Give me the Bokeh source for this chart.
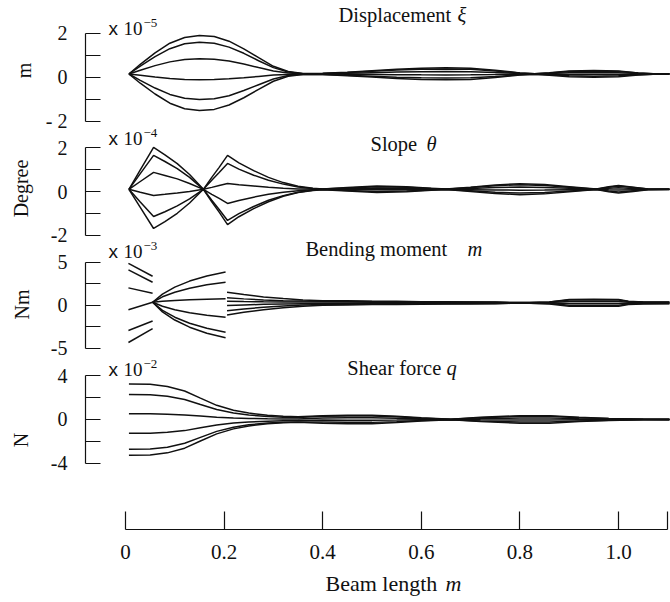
from bokeh.plotting import figure
from bokeh.models import Range1d, FixedTicker, Label, PrintfTickFormatter
from bokeh.layouts import column
from bokeh.embed import file_html
from bokeh.resources import INLINE

# ---------------- data ----------------
# Displacement xi, units of 1e-5 m
disp_x = [0.007, 0.03, 0.06, 0.09, 0.12, 0.15, 0.18, 0.21, 0.24, 0.27, 0.30, 0.33, 0.36,
          0.40, 0.45, 0.50, 0.55, 0.60, 0.65, 0.70, 0.75, 0.80, 0.83, 0.86, 0.90, 0.95,
          1.00, 1.04, 1.07, 1.104]
disp_1 = [0.16, 0.60, 1.12, 1.56, 1.82, 1.91, 1.86, 1.65, 1.30, 0.90, 0.51, 0.27, 0.18,
          0.19, 0.24, 0.31, 0.38, 0.42, 0.44, 0.42, 0.33, 0.21, 0.17, 0.22, 0.29, 0.32,
          0.29, 0.21, 0.17, 0.165]
disp_2 = [0.16, 0.52, 0.95, 1.31, 1.53, 1.60, 1.56, 1.38, 1.10, 0.76, 0.45, 0.25, 0.17,
          0.185, 0.226, 0.283, 0.34, 0.373, 0.39, 0.373, 0.299, 0.201, 0.168, 0.209, 0.267,
          0.291, 0.267, 0.201, 0.168, 0.164]
disp_3 = [0.16, 0.33, 0.54, 0.71, 0.82, 0.85, 0.83, 0.75, 0.61, 0.45, 0.30, 0.20, 0.17,
          0.172, 0.192, 0.22, 0.248, 0.264, 0.272, 0.264, 0.228, 0.18, 0.164, 0.184, 0.212,
          0.224, 0.212, 0.18, 0.164, 0.162]
disp_4 = [0.16, 0.10, 0.02, -0.05, -0.09, -0.10, -0.09, -0.06, -0.01, 0.05, 0.11, 0.14, 0.16,
          0.155, 0.148, 0.138, 0.127, 0.121, 0.118, 0.121, 0.134, 0.152, 0.158, 0.151, 0.14,
          0.136, 0.14, 0.152, 0.158, 0.159]
disp_5 = [0.16, -0.13, -0.48, -0.77, -0.94, -1.00, -0.97, -0.83, -0.59, -0.33, -0.07, 0.09, 0.15,
          0.14, 0.107, 0.061, 0.015, -0.012, -0.025, -0.012, 0.048, 0.127, 0.153, 0.12, 0.074,
          0.054, 0.074, 0.127, 0.153, 0.157]
disp_6 = [0.16, -0.26, -0.75, -1.17, -1.42, -1.50, -1.45, -1.25, -0.92, -0.54, -0.17, 0.06, 0.14,
          0.131, 0.084, 0.017, -0.049, -0.087, -0.106, -0.087, -0.002, 0.112, 0.15, 0.103, 0.036,
          0.008, 0.036, 0.112, 0.15, 0.155]

# Slope theta, units of 1e-4 degree
slope_x = [0.007, 0.03, 0.057, 0.08, 0.105, 0.13, 0.158, 0.175, 0.19, 0.207, 0.23, 0.26, 0.29,
           0.32, 0.35, 0.38, 0.40, 0.45, 0.51, 0.57, 0.62, 0.65, 0.70, 0.75, 0.80, 0.85, 0.90,
           0.955, 0.98, 1.00, 1.03, 1.06, 1.104]
slope_1 = [0.1, 0.99, 2.03, 1.68, 1.28, 0.78, 0.1, 0.65, 1.11, 1.66, 1.32, 0.96, 0.65, 0.41, 0.24,
           0.15, 0.12, 0.18, 0.25, 0.22, 0.15, 0.11, 0.2, 0.3, 0.36, 0.32, 0.22, 0.11, 0.22, 0.28,
           0.2, 0.12, 0.105]
slope_2 = [0.1, 0.82, 1.66, 1.38, 1.05, 0.65, 0.1, 0.52, 0.87, 1.29, 1.03, 0.75, 0.52, 0.34, 0.21,
           0.14, 0.11, 0.166, 0.223, 0.198, 0.141, 0.108, 0.182, 0.264, 0.313, 0.28, 0.198, 0.108,
           0.198, 0.248, 0.182, 0.116, 0.104]
slope_3 = [0.1, 0.46, 0.88, 0.74, 0.58, 0.37, 0.1, 0.19, 0.28, 0.37, 0.31, 0.25, 0.19, 0.15, 0.12,
           0.11, 0.10, 0.132, 0.16, 0.148, 0.12, 0.104, 0.14, 0.18, 0.204, 0.188, 0.148, 0.104,
           0.148, 0.172, 0.14, 0.108, 0.102]
slope_4 = [0.1, -0.03, -0.18, -0.13, -0.07, 0.0, 0.1, -0.13, -0.32, -0.55, -0.41, -0.26, -0.13,
           -0.03, 0.04, 0.08, 0.09, 0.088, 0.078, 0.082, 0.092, 0.098, 0.085, 0.07, 0.061, 0.067,
           0.082, 0.098, 0.082, 0.073, 0.085, 0.097, 0.099]
slope_5 = [0.1, -0.48, -1.15, -0.93, -0.66, -0.34, 0.1, -0.40, -0.83, -1.33, -1.02, -0.69, -0.40,
           -0.19, -0.03, 0.06, 0.09, 0.047, 0.001, 0.021, 0.067, 0.093, 0.034, -0.032, -0.072,
           -0.045, 0.021, 0.093, 0.021, -0.019, 0.034, 0.087, 0.097]
slope_6 = [0.1, -0.73, -1.70, -1.38, -1.0, -0.53, 0.1, -0.47, -0.95, -1.52, -1.16, -0.79, -0.47,
           -0.22, -0.05, 0.05, 0.08, 0.024, -0.043, -0.014, 0.052, 0.09, 0.005, -0.09, -0.147,
           -0.109, -0.014, 0.09, -0.014, -0.071, 0.005, 0.081, 0.095]

# Bending moment m, units of 1e-3 Nm (three separate pieces)
moment_a_x = [0.006, 0.055]
moment_a = [[4.9, 3.4], [4.15, 2.7], [2.05, 1.43], [-0.5, 0.38], [-2.9, -1.8], [-4.3, -2.7]]
moment_b_x = [0.055, 0.075, 0.10, 0.13, 0.165, 0.203]
moment_b = [[0.38, 1.33, 2.14, 2.84, 3.44, 3.9],
            [0.38, 1.01, 1.54, 2.0, 2.4, 2.7],
            [0.38, 0.49, 0.58, 0.66, 0.73, 0.78],
            [0.38, -0.09, -0.49, -0.84, -1.13, -1.36],
            [0.38, -0.56, -1.36, -2.06, -2.65, -3.1],
            [0.38, -0.74, -1.69, -2.52, -3.22, -3.76]]
moment_c_x = [0.206, 0.24, 0.28, 0.32, 0.36, 0.40, 0.45, 0.50, 0.55, 0.60, 0.65, 0.70, 0.75,
              0.78, 0.82, 0.86, 0.90, 0.95, 1.00, 1.02, 1.05, 1.104]
moment_c = [[1.55, 1.275, 1.0, 0.8, 0.65, 0.55, 0.55, 0.5, 0.48, 0.45, 0.44, 0.42, 0.4, 0.35,
             0.35, 0.42, 0.7, 0.72, 0.7, 0.5, 0.42, 0.4],
            [0.9, 0.77, 0.64, 0.56, 0.51, 0.49, 0.505, 0.464, 0.448, 0.423, 0.415, 0.398, 0.382,
             0.341, 0.341, 0.398, 0.628, 0.644, 0.628, 0.464, 0.398, 0.382],
            [0.5, 0.46, 0.43, 0.41, 0.40, 0.40, 0.4, 0.38, 0.372, 0.36, 0.356, 0.348, 0.34, 0.32,
             0.32, 0.348, 0.46, 0.468, 0.46, 0.38, 0.348, 0.34],
            [0.0, 0.066, 0.132, 0.18, 0.216, 0.24, 0.262, 0.27, 0.273, 0.278, 0.279, 0.282, 0.285,
             0.292, 0.292, 0.282, 0.24, 0.237, 0.24, 0.27, 0.282, 0.285],
            [-0.6, -0.402, -0.204, -0.06, 0.048, 0.11, 0.135, 0.168, 0.181, 0.201, 0.208, 0.221,
             0.234, 0.267, 0.267, 0.221, 0.036, 0.023, 0.036, 0.168, 0.221, 0.234],
            [-1.1, -0.792, -0.484, -0.26, -0.092, 0.02, 0.063, 0.11, 0.129, 0.158, 0.167, 0.186,
             0.205, 0.252, 0.252, 0.186, -0.08, -0.099, -0.08, 0.11, 0.186, 0.205]]

# Shear force q, units of 1e-2 N
shear_x = [0.007, 0.05, 0.085, 0.12, 0.152, 0.185, 0.219, 0.25, 0.288, 0.32, 0.35, 0.40, 0.45,
           0.50, 0.55, 0.60, 0.66, 0.72, 0.80, 0.86, 0.92, 0.98, 1.05, 1.104]
shear_1 = [3.26, 3.23, 3.03, 2.61, 1.96, 1.30, 0.85, 0.59, 0.39, 0.29, 0.26, 0.35, 0.4, 0.4, 0.3,
           0.15, 0.02, 0.2, 0.35, 0.35, 0.2, 0.1, 0.03, 0.02]
shear_2 = [2.3, 2.28, 2.14, 1.84, 1.38, 0.92, 0.60, 0.41, 0.28, 0.21, 0.18, 0.287, 0.328, 0.328,
           0.246, 0.123, 0.016, 0.164, 0.287, 0.287, 0.164, 0.082, 0.025, 0.016]
shear_3 = [0.53, 0.52, 0.49, 0.42, 0.32, 0.21, 0.14, 0.10, 0.06, 0.05, 0.04, 0.14, 0.16, 0.16,
           0.12, 0.06, 0.008, 0.08, 0.14, 0.14, 0.08, 0.04, 0.012, 0.008]
shear_4 = [-1.27, -1.26, -1.18, -1.02, -0.76, -0.51, -0.33, -0.23, -0.15, -0.11, -0.10, -0.053,
           -0.06, -0.06, -0.045, -0.023, -0.003, -0.03, -0.053, -0.053, -0.03, -0.015, -0.005, -0.003]
shear_5 = [-2.73, -2.70, -2.54, -2.18, -1.64, -1.09, -0.71, -0.49, -0.33, -0.25, -0.22, -0.231,
           -0.264, -0.264, -0.198, -0.099, -0.013, -0.132, -0.231, -0.231, -0.132, -0.066, -0.02, -0.013]
shear_6 = [-3.29, -3.26, -3.06, -2.63, -1.97, -1.32, -0.86, -0.59, -0.39, -0.30, -0.26, -0.333,
           -0.38, -0.38, -0.285, -0.143, -0.019, -0.19, -0.333, -0.333, -0.19, -0.095, -0.029, -0.019]

x_ticks = [0, 0.2, 0.4, 0.6, 0.8, 1.0]
x_end_tick = [1.1]

# ---------------- styling ----------------
SERIF = "Liberation Serif"
SANS = "Liberation Sans"
INK = "#111111"
LW = 1.5
OVERLAP = 22
TITLE = "20.5px"

xr = Range1d(-0.0811, 1.1034)


def make_fig(h, y0, y1, bottom=0, overlap=0, axis=True):
    p = figure(width=670, height=h, x_range=xr, y_range=Range1d(y0, y1),
               output_backend="svg", toolbar_location=None,
               min_border_left=85, min_border_right=1, min_border_top=0,
               min_border_bottom=bottom,
               x_axis_location=("below" if bottom else None),
               y_axis_location=("left" if axis else None))
    p.outline_line_color = None
    p.grid.visible = False
    p.background_fill_color = None
    p.border_fill_color = None
    if overlap:
        p.margin = (-overlap, 0, 0, 0)
    return p


def style_y(p, major, minor, overrides, label, label_standoff):
    ax = p.yaxis[0]
    ax.ticker = FixedTicker(ticks=major, minor_ticks=minor)
    ax.bounds = (major[0], major[-1])
    ax.major_label_overrides = overrides
    ax.axis_label = label
    ax.axis_label_text_font = SERIF
    ax.axis_label_text_font_size = "20px"
    ax.axis_label_text_font_style = "normal"
    ax.axis_label_text_color = INK
    ax.axis_label_standoff = label_standoff
    ax.major_label_text_font = SERIF
    ax.major_label_text_font_size = "20px"
    ax.major_label_text_color = INK
    ax.major_label_standoff = 18
    ax.major_tick_in = 15
    ax.major_tick_out = 0
    ax.minor_tick_in = 15
    ax.minor_tick_out = 0
    for attr in ("axis_line", "major_tick_line", "minor_tick_line"):
        setattr(ax, attr + "_color", INK)
        setattr(ax, attr + "_width", 1.2)


def txt(p, x, y, text, size=TITLE, font=SERIF, style="normal"):
    p.add_layout(Label(x=x, y=y, text=text, text_font=font, text_font_size=size,
                       text_font_style=style, text_align="left",
                       text_baseline="alphabetic", text_color=INK))


def scale_note(p, y_base, y_exp, exp):
    txt(p, -0.0345, y_base, "x", size="19px", font=SANS)
    txt(p, -0.0041, y_base, "10", size="19px")
    txt(p, 0.0365, y_exp, exp, size="13px")


# panel 1: displacement   (page rows 0..140)
p1 = make_fig(140, -2.864, 3.5)
for ys in (disp_1, disp_2, disp_3, disp_4, disp_5, disp_6):
    p1.line(disp_x, ys, line_color=INK, line_width=LW)
style_y(p1, [-2, 0, 2], [-1, 1], {2: "2", 0: "0", -2: "- 2"}, "m", 8)
txt(p1, 0.432, 2.832, "Displacement")
txt(p1, 0.6734, 2.832, "ξ", style="italic")
scale_note(p1, 2.214, 2.495, "−5")

# panel 2: slope   (page rows 118..258)
p2 = make_fig(140, -3.080, 3.356, overlap=OVERLAP)
for ys in (slope_1, slope_2, slope_3, slope_4, slope_5, slope_6):
    p2.line(slope_x, ys, line_color=INK, line_width=LW)
style_y(p2, [-2, 0, 2], [-1, 1], {2: "2", 0: "0", -2: "-2"}, "Degree", 16)
txt(p2, 0.497, 2.175, "Slope")
txt(p2, 0.6105, 2.175, "θ", style="italic")
scale_note(p2, 2.423, 2.708, "−4")

# panel 3: bending moment   (page rows 236..372)
p3 = make_fig(136, -7.791, 8.023, overlap=OVERLAP)
for ys in moment_a:
    p3.line(moment_a_x, ys, line_color=INK, line_width=LW)
for ys in moment_b:
    p3.line(moment_b_x, ys, line_color=INK, line_width=LW)
for ys in moment_c:
    p3.line(moment_c_x, ys, line_color=INK, line_width=LW)
style_y(p3, [-5, 0, 5], [-2.5, 2.5], {5: "5", 0: "0", -5: "-5"}, "Nm", 15)
txt(p3, 0.365, 6.547, "Bending moment")
txt(p3, 0.6937, 6.547, "m", style="italic")
scale_note(p3, 6.244, 6.965, "−3")

# panel 4: shear force + common x axis   (page rows 350..602, frame 350..529)
p4 = make_fig(252, -10.092, 6.330, bottom=73, overlap=OVERLAP)
for ys in (shear_1, shear_2, shear_3, shear_4, shear_5, shear_6):
    p4.line(shear_x, ys, line_color=INK, line_width=LW)
style_y(p4, [-4, 0, 4], [-2, 2], {4: "4", 0: "0", -4: "-4"}, "N", 16)
txt(p4, 0.450, 4.706, "Shear force")
txt(p4, 0.6511, 4.706, "q", style="italic")
scale_note(p4, 4.560, 5.128, "−2")

xa = p4.xaxis[0]
xa.ticker = FixedTicker(ticks=x_ticks, minor_ticks=x_end_tick)
xa.bounds = (0, 1.1)
xa.formatter = PrintfTickFormatter(format="%.1f")
xa.major_label_overrides = {0: "0"}
xa.major_label_text_font = SERIF
xa.major_label_text_font_size = "21px"
xa.major_label_text_color = INK
xa.major_label_standoff = 15
xa.major_tick_in = 18
xa.major_tick_out = 0
xa.minor_tick_in = 18
xa.minor_tick_out = 0
for attr in ("axis_line", "major_tick_line", "minor_tick_line"):
    setattr(xa, attr + "_color", INK)
    setattr(xa, attr + "_width", 1.2)

# x-axis title strip (page rows 560..602)
p5 = make_fig(42, 0, 1, overlap=42, axis=False)
txt(p5, 0.4057, 0.443, "Beam length", size="22px")
txt(p5, 0.649, 0.443, "m", size="22px", style="italic")

layout = column(p1, p2, p3, p4, p5, spacing=0)
open("out.html", "w").write(file_html(layout, INLINE))
